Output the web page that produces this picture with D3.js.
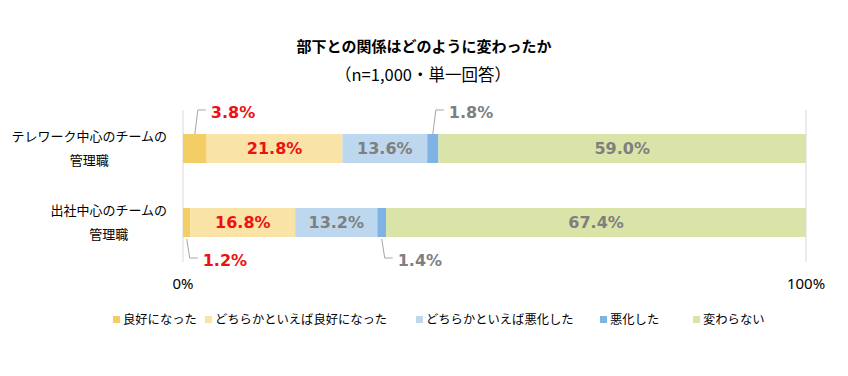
<!DOCTYPE html>
<html>
<head>
<meta charset="utf-8">
<script src="https://cdn.jsdelivr.net/npm/d3@7"></script>
<style>
  body { margin: 0; background: #fff; }
  text { font-family: "Noto Sans CJK JP", "Noto Sans", sans-serif; }
</style>
</head>
<body>
<div id="chart"></div>
<script>
const categories = [
  ["テレワーク中心のチームの", "管理職"],
  ["出社中心のチームの", "管理職"]
];
const seriesNames = ["良好になった", "どちらかといえば良好になった", "どちらかといえば悪化した", "悪化した", "変わらない"];
const seriesValues = [
  [3.8, 1.2],
  [21.8, 16.8],
  [13.6, 13.2],
  [1.8, 1.4],
  [59.0, 67.4]
];
const tickLabels = ["0%", "100%"];
const colors = ["#F2CE64", "#F9E3A7", "#BDD7EE", "#7FB2E5", "#DAE3A8"];
const labelColors = ["#EE1111", "#EE1111", "#7F7F7F", "#7F7F7F", "#7F7F7F"];

const width = 848, height = 376;
const svg = d3.select("#chart").append("svg")
  .attr("width", width).attr("height", height);

const x = d3.scaleLinear().domain([0, 100]).range([183, 806]);
const y = d3.scaleBand().domain(d3.range(categories.length))
  .range([97, 274]).paddingInner(0.608).paddingOuter(0.5);

// title
svg.append("text").attr("x", 424).attr("y", 52).attr("text-anchor", "middle")
  .style("font-size", "15px").style("font-weight", "bold").attr("fill", "#000")
  .text("部下との関係はどのように変わったか");
svg.append("text").attr("x", 423).attr("y", 81).attr("text-anchor", "middle")
  .style("font-size", "16.5px").attr("fill", "#000")
  .text("（n=1,000・単一回答）");

// grid lines at 0 and 100
svg.selectAll(".grid").data([0, 100]).enter().append("line")
  .attr("x1", d => x(d)).attr("x2", d => x(d))
  .attr("y1", 110).attr("y2", 262)
  .attr("stroke", "#D9D9D9").attr("stroke-width", 1);

// tick labels
svg.selectAll(".tick").data([0, 100]).enter().append("text")
  .attr("x", d => x(d)).attr("y", 289).attr("text-anchor", "middle")
  .style("font-family", "'Noto Sans', sans-serif")
  .style("font-size", "15px").attr("fill", "#000")
  .text((d, i) => tickLabels[i]);

// stacked segments
const segs = [];
categories.forEach((c, ci) => {
  let acc = 0;
  seriesValues.forEach((vals, si) => {
    segs.push({ ci, si, v: vals[ci], x0: acc, x1: acc + vals[ci] });
    acc += vals[ci];
  });
});

svg.selectAll(".seg").data(segs).enter().append("rect")
  .attr("x", d => x(d.x0)).attr("width", d => x(d.x1) - x(d.x0))
  .attr("y", d => y(d.ci)).attr("height", y.bandwidth())
  .attr("fill", d => colors[d.si]);

const fmt = v => v.toFixed(1) + "%";

// labels inside
svg.selectAll(".lbl").data(segs.filter(d => d.v >= 5)).enter().append("text")
  .attr("x", d => x((d.x0 + d.x1) / 2))
  .attr("y", d => y(d.ci) + y.bandwidth() / 2)
  .attr("dy", "0.36em").attr("text-anchor", "middle")
  .style("font-family", "'DejaVu Sans', sans-serif")
  .style("font-size", "16px").style("font-weight", "bold")
  .attr("fill", d => labelColors[d.si])
  .text(d => fmt(d.v));

// small labels outside with leader lines
const small = segs.filter(d => d.v < 5);
small.forEach(d => {
  const mx = x((d.x0 + d.x1) / 2);
  const above = d.ci === 0;
  const y0 = above ? y(d.ci) : y(d.ci) + y.bandwidth() + 2;
  const y1 = above ? y(d.ci) - 24 : y(d.ci) + y.bandwidth() + 21;
  svg.append("path")
    .attr("d", `M${mx},${y0}L${mx + 3},${y1}L${mx + 11},${y1}`)
    .attr("fill", "none").attr("stroke", "#A6A6A6").attr("stroke-width", 1);
  svg.append("text")
    .attr("x", mx + 16).attr("y", y1 + 2).attr("dy", "0.36em")
    .style("font-family", "'DejaVu Sans', sans-serif")
    .style("font-size", "16px").style("font-weight", "bold")
    .attr("fill", labelColors[d.si])
    .text(fmt(d.v));
});

// category labels: centred block, right edge at 167
categories.forEach((lines, ci) => {
  const cy = y(ci) + y.bandwidth() / 2;
  const g = svg.append("g");
  const t = g.selectAll("text").data(lines).enter().append("text")
    .attr("y", (d, i) => cy + (i - (lines.length - 1) / 2) * 24)
    .attr("dy", "0.36em").attr("text-anchor", "middle")
    .style("font-size", "13px").attr("fill", "#000")
    .text(d => d);
  const maxW = d3.max(t.nodes(), n => n.getComputedTextLength());
  t.attr("x", 167 - maxW / 2);
});

// legend
const legendX = [113, 205, 416, 600, 693];
const lg = svg.selectAll(".lg").data(seriesNames).enter().append("g")
  .attr("transform", (d, i) => `translate(${legendX[i]},320)`);
lg.append("rect").attr("x", 0).attr("y", -4).attr("width", 7).attr("height", 7)
  .attr("fill", (d, i) => colors[i]);
lg.append("text").attr("x", 10).attr("y", 0).attr("dy", "0.36em")
  .style("font-size", "12.3px").attr("fill", "#000")
  .text(d => d);
</script>
</body>
</html>
